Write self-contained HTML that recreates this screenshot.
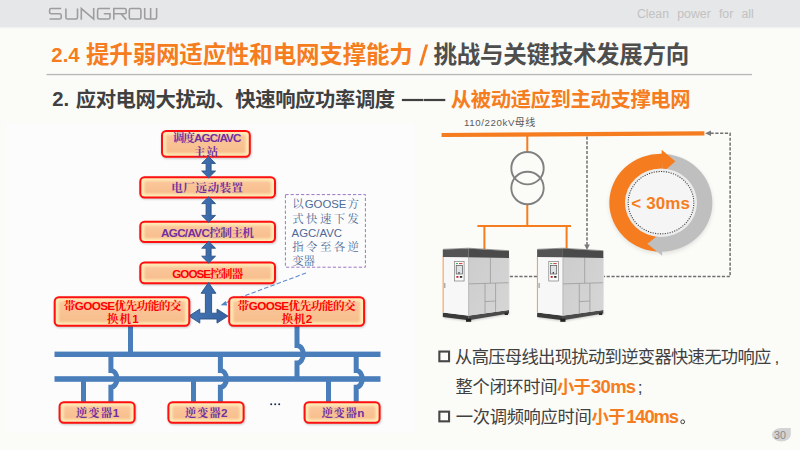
<!DOCTYPE html>
<html lang="zh-CN"><head><meta charset="utf-8"><title>2.4 提升弱网适应性和电网支撑能力</title>
<style>
html,body{margin:0;padding:0}
body{width:800px;height:450px;overflow:hidden;position:relative;background:#fbfbf8;font-family:"Liberation Sans",sans-serif}
#hdr{position:absolute;left:0;top:0;width:800px;height:27.4px;background:#e6e7e8}
#hsh{position:absolute;left:0;top:27.4px;width:800px;height:1.2px;background:linear-gradient(#eeeeee,#fbfbf8)}
#art{position:absolute;left:0;top:0}
.t{position:absolute;white-space:nowrap;color:transparent;line-height:1.2;margin:0}
#slogan{position:absolute;left:636.9px;top:6.5px;font-size:12.3px;line-height:14px;color:#c2c2c2;letter-spacing:0;word-spacing:4.8px;white-space:nowrap}
#pg{position:absolute;left:770px;top:428.9px;width:20px;text-align:center;font-size:10.7px;line-height:12px;color:#8a8a8a}
#art text{font-family:"Liberation Sans","Noto Sans CJK SC",sans-serif}
#art text.bx{font-family:"Liberation Sans","Noto Serif CJK SC",serif;font-weight:bold;font-size:11.67px}
#art text.nt{font-family:"Liberation Sans","Noto Serif CJK SC",serif;font-size:11.4px;fill:#4d6a96}
</style></head><body>
<div id="hdr"></div><div id="hsh"></div>
<svg id="art" width="800" height="450" viewBox="0 0 800 450"><defs><linearGradient id="bx" x1="0" y1="0" x2="0" y2="1"><stop offset="0" stop-color="#fac79c"/><stop offset="1" stop-color="#f8be8c"/></linearGradient>
<linearGradient id="ar" x1="0" y1="0" x2="1" y2="0"><stop offset="0" stop-color="#4476b6"/><stop offset="1" stop-color="#35629f"/></linearGradient>
<linearGradient id="cs" x1="0" y1="0" x2="1" y2="1"><stop offset="0" stop-color="#cccccc"/><stop offset="1" stop-color="#d6d6d6"/></linearGradient>
<filter id="bl" x="-20%" y="-40%" width="140%" height="180%"><feGaussianBlur stdDeviation="1.1"/></filter>
<filter id="bl3" x="-10%" y="-30%" width="120%" height="160%"><feGaussianBlur stdDeviation="1.05"/></filter>
<filter id="bl2" x="-20%" y="-20%" width="140%" height="140%"><feGaussianBlur stdDeviation="2"/></filter></defs>
<text x="51.33" y="62.05" font-size="20.37" font-weight="bold" fill="#f57d20">2.4</text>
<text x="85.96" y="62.95" font-size="23.5" font-weight="bold" fill="#f57d20" textLength="326.9">提升弱网适应性和电网支撑能力</text>
<polygon points="419.1,65.4 422,65.4 428.2,44.5 425.3,44.5" fill="#f57d20"/>
<text x="433.51" y="62.95" font-size="23.5" font-weight="bold" fill="#4e4e4e" textLength="255.8">挑战与关键技术发展方向</text>
<rect x="46.5" y="73.9" width="705.5" height="1.3" fill="#b7b7b7"/>
<text x="52.23" y="105.6" font-size="20.25" font-weight="bold" fill="#404040">2.</text>
<text x="75.7" y="106.65" font-size="20.35" font-weight="bold" fill="#404040" textLength="319.5">应对电网大扰动、快速响应功率调度</text>
<rect x="401.9" y="98.9" width="21.5" height="2.2" fill="#404040"/><rect x="423.9" y="98.9" width="21.4" height="2.2" fill="#404040"/>
<text x="450.76" y="106.65" font-size="20.35" font-weight="bold" fill="#f57d20" textLength="239.9">从被动适应到主动支撑电网</text>
<rect x="5" y="123" width="409.5" height="310" fill="#fcfcfc"/><rect x="54.5" y="351.6" width="326" height="5.4" fill="#4a7ebb"/><rect x="54.5" y="376.2" width="326" height="5.6" fill="#4a7ebb"/><rect x="128" y="326" width="5" height="27" fill="#4a7ebb"/><path d="M297 326 V345.5 A6.3 8.75 0 0 1 297 363 V378" fill="none" stroke="#4a7ebb" stroke-width="5"/><rect x="81" y="380" width="5" height="22" fill="#4a7ebb"/><rect x="191" y="380" width="5" height="22" fill="#4a7ebb"/><rect x="326" y="380" width="5" height="22" fill="#4a7ebb"/><path d="M110.9 355 V370.4 A6.05 8.4 0 0 1 110.9 387.2 V402" fill="none" stroke="#4a7ebb" stroke-width="5"/><path d="M220.4 355 V370.4 A6.05 8.4 0 0 1 220.4 387.2 V402" fill="none" stroke="#4a7ebb" stroke-width="5"/><path d="M356.2 355 V370.4 A6.05 8.4 0 0 1 356.2 387.2 V402" fill="none" stroke="#4a7ebb" stroke-width="5"/><rect x="161.6" y="130.9" width="89.8" height="27.8" rx="4.8" fill="#000" opacity=".22" filter="url(#bl)"/><rect x="162" y="131" width="87.8" height="25.8" rx="4.2" fill="#fdebb6" stroke="#ff0f0f" stroke-width="2"/><rect x="166" y="134.8" width="79.8" height="18.4" rx="1.5" fill="url(#bx)" filter="url(#bl3)"/><rect x="139.9" y="177.1" width="136.7" height="22.2" rx="4.8" fill="#000" opacity=".22" filter="url(#bl)"/><rect x="140.3" y="177.2" width="134.7" height="20.2" rx="4.2" fill="#fdebb6" stroke="#ff0f0f" stroke-width="2"/><rect x="144.3" y="181" width="126.7" height="12.8" rx="1.5" fill="url(#bx)" filter="url(#bl3)"/><rect x="139.9" y="221.7" width="136.7" height="22.2" rx="4.8" fill="#000" opacity=".22" filter="url(#bl)"/><rect x="140.3" y="221.8" width="134.7" height="20.2" rx="4.2" fill="#fdebb6" stroke="#ff0f0f" stroke-width="2"/><rect x="144.3" y="225.6" width="126.7" height="12.8" rx="1.5" fill="url(#bx)" filter="url(#bl3)"/><rect x="139.9" y="262.5" width="136.7" height="22.6" rx="4.8" fill="#000" opacity=".22" filter="url(#bl)"/><rect x="140.3" y="262.6" width="134.7" height="20.6" rx="4.2" fill="#fdebb6" stroke="#ff0f0f" stroke-width="2"/><rect x="144.3" y="266.4" width="126.7" height="13.2" rx="1.5" fill="url(#bx)" filter="url(#bl3)"/><polygon points="208.5,282.6 215.9,293.3 211.6,293.3 211.6,313.2 217,313.2 217,309.1 227.9,316.1 217,323.1 217,319 199.8,319 199.8,323.1 189,316.1 199.8,309.1 199.8,313.2 205.4,313.2 205.4,293.3 201.1,293.3" fill="url(#ar)" stroke="#2b5286" stroke-width=".9" stroke-linejoin="round"/><path d="M306 273 L223.5 303.7" stroke="#5b8bd0" stroke-width="1.1" stroke-dasharray="4.5 2.2" fill="none"/><polygon points="220.6,305.3 225.6,300.9 227.3,305.4" fill="#4f86cc"/><polygon points="208.6,156.6 215.5,163.4 211.1,163.4 211.1,171 215.5,171 208.6,177.8 201.7,171 206.1,171 206.1,163.4 201.7,163.4" fill="url(#ar)" stroke="#2b5286" stroke-width=".9" stroke-linejoin="round"/><polygon points="208.6,196.8 215.5,203.6 211.1,203.6 211.1,215.4 215.5,215.4 208.6,222.2 201.7,215.4 206.1,215.4 206.1,203.6 201.7,203.6" fill="url(#ar)" stroke="#2b5286" stroke-width=".9" stroke-linejoin="round"/><polygon points="208.6,241.4 215.5,248.2 211.1,248.2 211.1,256.2 215.5,256.2 208.6,263 201.7,256.2 206.1,256.2 206.1,248.2 201.7,248.2" fill="url(#ar)" stroke="#2b5286" stroke-width=".9" stroke-linejoin="round"/><rect x="54.3" y="297.1" width="136.6" height="30.6" rx="4.8" fill="#000" opacity=".22" filter="url(#bl)"/><rect x="54.7" y="297.2" width="134.6" height="28.6" rx="4.2" fill="#fdebb6" stroke="#ff0f0f" stroke-width="2"/><rect x="58.7" y="301" width="126.6" height="21.2" rx="1.5" fill="url(#bx)" filter="url(#bl3)"/><rect x="228.8" y="297.1" width="136.9" height="30.6" rx="4.8" fill="#000" opacity=".22" filter="url(#bl)"/><rect x="229.2" y="297.2" width="134.9" height="28.6" rx="4.2" fill="#fdebb6" stroke="#ff0f0f" stroke-width="2"/><rect x="233.2" y="301" width="126.9" height="21.2" rx="1.5" fill="url(#bx)" filter="url(#bl3)"/><rect x="59.2" y="402.1" width="77" height="22.6" rx="4.8" fill="#000" opacity=".22" filter="url(#bl)"/><rect x="59.6" y="402.2" width="75" height="20.6" rx="4.2" fill="#fdebb6" stroke="#ff0f0f" stroke-width="2"/><rect x="63.6" y="406" width="67" height="13.2" rx="1.5" fill="url(#bx)" filter="url(#bl3)"/><rect x="168" y="402.1" width="77.2" height="22.6" rx="4.8" fill="#000" opacity=".22" filter="url(#bl)"/><rect x="168.4" y="402.2" width="75.2" height="20.6" rx="4.2" fill="#fdebb6" stroke="#ff0f0f" stroke-width="2"/><rect x="172.4" y="406" width="67.2" height="13.2" rx="1.5" fill="url(#bx)" filter="url(#bl3)"/><rect x="304.2" y="402.1" width="77" height="22.6" rx="4.8" fill="#000" opacity=".22" filter="url(#bl)"/><rect x="304.6" y="402.2" width="75" height="20.6" rx="4.2" fill="#fdebb6" stroke="#ff0f0f" stroke-width="2"/><rect x="308.6" y="406" width="67" height="13.2" rx="1.5" fill="url(#bx)" filter="url(#bl3)"/>
<text class="bx" x="172.63" y="141.8" fill="#7030a0" textLength="68.7">调度AGC/AVC</text>
<text class="bx" x="193.74" y="155.5" fill="#7030a0" textLength="24.5">主站</text>
<text class="bx" x="171.15" y="192.1" fill="#7030a0" textLength="72.1">电厂远动装置</text>
<text class="bx" x="160.98" y="236.7" fill="#7030a0" textLength="92.85">AGC/AVC控制主机</text>
<text class="bx" x="172.19" y="277.7" fill="#ff0000" textLength="71">GOOSE控制器</text>
<text class="bx" x="63.73" y="310.1" fill="#ff0000" textLength="117.7">带GOOSE优先功能的交</text>
<text class="bx" x="106.92" y="323.3" fill="#ff0000" textLength="31.8">换机1</text>
<text class="bx" x="237.53" y="310.1" fill="#ff0000" textLength="118.2">带GOOSE优先功能的交</text>
<text class="bx" x="281.72" y="323.3" fill="#ff0000" textLength="30.4">换机2</text>
<text class="bx" x="75.71" y="417.3" fill="#7030a0" textLength="43.5">逆变器1</text>
<text class="bx" x="184.71" y="417.3" fill="#7030a0" textLength="42.8">逆变器2</text>
<text class="bx" x="321.46" y="417.3" fill="#7030a0" textLength="42.8">逆变器n</text>
<g fill="#1f2a5c"><circle cx="271.2" cy="404.3" r="1"/><circle cx="275.2" cy="404.3" r="1"/><circle cx="279.2" cy="404.3" r="1"/></g><rect x="285.4" y="194.6" width="80" height="72.6" fill="none" stroke="#9a78c6" stroke-width="1" stroke-dasharray="3.2 2"/>
<text class="nt" x="292.2" y="208.4">以</text>
<text class="nt" x="304.7" y="208.4">GOOSE</text>
<text class="nt" x="347.6" y="208.4">方</text>
<text class="nt" x="292.2" y="223" textLength="66.8">式快速下发</text>
<text class="nt" x="291.6" y="237">AGC/AVC</text>
<text class="nt" x="292.2" y="251.2" textLength="66.8">指令至各逆</text>
<text class="nt" x="292.2" y="264.6">变器</text>
<path d="M710.5 133.25 H730.1 V276.6 H604 M537 276.6 H509.4 M587 136.5 V246" fill="none" stroke="#707070" stroke-width="1.5" stroke-dasharray="3.2 1.6"/><polygon points="705,133.2 711,130.5 711,135.9" fill="#7a7a7a"/><polygon points="587,250 584.2,244.6 589.8,244.6" fill="#7a7a7a"/><polygon points="441.6,133 704.4,131.2 704.4,135.5 441.6,137.1" fill="#f57d20"/><path d="M527.3 135 V151.5 M527.3 205 V226.1 M477.4 226.1 H571 M484.4 226 V249 M566.6 226 V249" stroke="#f57d20" stroke-width="2" fill="none"/><circle cx="527.5" cy="168.2" r="16.2" fill="none" stroke="#808080" stroke-width="1.9"/><circle cx="527.5" cy="188" r="16.2" fill="none" stroke="#808080" stroke-width="1.9"/>
<text x="463.89" y="126.3" font-size="9.7" fill="#5a5a5a" textLength="50.6">110/220kV</text>
<text x="514.83" y="126.3" font-size="10" fill="#5a5a5a" textLength="20.3">母线</text>
<g transform="translate(0 0)"><polygon points="444,318 468.6,321.6 509.5,314.2 509.5,312 468.6,318 444,315" fill="#000" opacity=".18" filter="url(#bl)"/><polygon points="442.8,312.4 468.6,315.6 468.6,320.3 442.8,316.9" fill="#3a3a3a"/><polygon points="468.6,315.6 509,310 509,313.4 468.6,320.3" fill="#4a4a4a"/><rect x="466" y="318.6" width="5.2" height="3.2" fill="#222"/><rect x="504.6" y="312.6" width="3.4" height="2.4" fill="#2a2a2a"/><polygon points="442.8,249.6 468.6,248.5 468.6,315.7 442.8,312.5" fill="#f7f7f7"/><polygon points="442.6,256.8 443.7,256.8 443.7,312.7 442.6,312.5" fill="#f7a05c"/><polygon points="468.6,248.5 509,251 509,310.1 468.6,315.7" fill="url(#cs)"/><path d="M468.6 283.9 L509 282.7 M490.4 257.6 V283.2 M485 283.6 V313.2 M495.6 283.2 V311.8 M485 301.6 L495.6 301" stroke="#9a9a9a" stroke-width=".8" fill="none"/><path d="M468.6 257 V315.7" stroke="#a8a8a8" stroke-width=".7"/><path d="M509 257 V310" stroke="#dcdcdc" stroke-width=".8"/><polygon points="442.8,249.6 468.6,248.5 468.6,257.2 442.8,257" fill="#545454"/><polygon points="468.6,248.5 509,251 509,257.9 468.6,257.2" fill="#4a4a4a"/><path d="M443 249.3 L468.6 248.2 L509 250.7" stroke="#7a7a7a" stroke-width=".7" fill="none"/><rect x="454.5" y="261.6" width="9.6" height="19.4" fill="#fbfbfb" stroke="#7d7d7d" stroke-width=".7"/><rect x="456.2" y="265.4" width="6.2" height="8.6" fill="#dfe2e6" stroke="#555" stroke-width=".7"/><rect x="456" y="263" width="2" height="1.1" fill="#4caf50"/><rect x="459" y="263" width="3.4" height="1.1" fill="#d64545"/><rect x="456.4" y="276" width="2" height="1.8" fill="#b22"/><rect x="459.8" y="276" width="2.4" height="1.8" fill="#333"/><rect x="458.4" y="272" width="1.2" height="1.6" fill="#333"/><rect x="444.3" y="283" width="1" height="5" fill="#8a8a8a"/></g><g transform="translate(94.3 0)"><polygon points="444,318 468.6,321.6 509.5,314.2 509.5,312 468.6,318 444,315" fill="#000" opacity=".18" filter="url(#bl)"/><polygon points="442.8,312.4 468.6,315.6 468.6,320.3 442.8,316.9" fill="#3a3a3a"/><polygon points="468.6,315.6 509,310 509,313.4 468.6,320.3" fill="#4a4a4a"/><rect x="466" y="318.6" width="5.2" height="3.2" fill="#222"/><rect x="504.6" y="312.6" width="3.4" height="2.4" fill="#2a2a2a"/><polygon points="442.8,249.6 468.6,248.5 468.6,315.7 442.8,312.5" fill="#f7f7f7"/><polygon points="442.6,256.8 443.7,256.8 443.7,312.7 442.6,312.5" fill="#f7a05c"/><polygon points="468.6,248.5 509,251 509,310.1 468.6,315.7" fill="url(#cs)"/><path d="M468.6 283.9 L509 282.7 M490.4 257.6 V283.2 M485 283.6 V313.2 M495.6 283.2 V311.8 M485 301.6 L495.6 301" stroke="#9a9a9a" stroke-width=".8" fill="none"/><path d="M468.6 257 V315.7" stroke="#a8a8a8" stroke-width=".7"/><path d="M509 257 V310" stroke="#dcdcdc" stroke-width=".8"/><polygon points="442.8,249.6 468.6,248.5 468.6,257.2 442.8,257" fill="#545454"/><polygon points="468.6,248.5 509,251 509,257.9 468.6,257.2" fill="#4a4a4a"/><path d="M443 249.3 L468.6 248.2 L509 250.7" stroke="#7a7a7a" stroke-width=".7" fill="none"/><rect x="454.5" y="261.6" width="9.6" height="19.4" fill="#fbfbfb" stroke="#7d7d7d" stroke-width=".7"/><rect x="456.2" y="265.4" width="6.2" height="8.6" fill="#dfe2e6" stroke="#555" stroke-width=".7"/><rect x="456" y="263" width="2" height="1.1" fill="#4caf50"/><rect x="459" y="263" width="3.4" height="1.1" fill="#d64545"/><rect x="456.4" y="276" width="2" height="1.8" fill="#b22"/><rect x="459.8" y="276" width="2.4" height="1.8" fill="#333"/><rect x="458.4" y="272" width="1.2" height="1.6" fill="#333"/><rect x="444.3" y="283" width="1" height="5" fill="#8a8a8a"/></g><g transform="translate(661 202.7) scale(1 0.95)"><circle r="51.6" fill="#000" opacity=".10" filter="url(#bl2)" cy="2"/><path d="M0 -51.6 A51.6 51.6 0 1 1 -0.45 51.6 L-0.31 35.6 A35.6 35.6 0 1 0 0 -35.6 Z" fill="#bfbfbf"/><path d="M0 51.6 A51.6 51.6 0 1 1 1.35 -51.58 L0.93 -35.59 A35.6 35.6 0 1 0 0 35.6 Z" fill="#f57d20"/><polygon points="0.6,-55.8 1.4,-31.4 14.4,-43.6" fill="#f57d20"/><polygon points="0.2,31.6 1.2,55.8 -13.6,43.2" fill="#bfbfbf"/><circle r="36" fill="#ececec"/><circle r="32.8" fill="#f5f5f5" stroke="#3c3c3c" stroke-width="1.1" stroke-dasharray="1.1 1.35"/></g>
<text x="631.27" y="209.2" font-size="17" font-weight="bold" fill="#f57d20" textLength="58.7">&lt; 30ms</text>
<rect x="439.35" y="351.55" width="9.7" height="9.7" fill="none" stroke="#474747" stroke-width="2.1"/><rect x="439.35" y="411.65" width="9.7" height="9.7" fill="none" stroke="#474747" stroke-width="2.1"/>
<text x="455.04" y="363.05" font-size="17.3" fill="#404040" textLength="316.3">从高压母线出现扰动到逆变器快速无功响应</text>
<text x="774.49" y="363.05" font-size="17.3" fill="#404040">,</text>
<text x="455.53" y="393.05" font-size="17.3" fill="#404040" textLength="102">整个闭环时间</text>
<text x="557.12" y="393.05" font-size="17.3" font-weight="bold" fill="#f57d20" textLength="33.7">小于</text>
<text x="591.05" y="393" font-size="18.41" font-weight="bold" fill="#f57d20" textLength="45">30ms</text>
<text x="637.66" y="393.05" font-size="17.3" fill="#404040">;</text>
<text x="455.84" y="422.95" font-size="17.3" fill="#404040" textLength="135.9">一次调频响应时间</text>
<text x="591.62" y="422.95" font-size="17.3" font-weight="bold" fill="#f57d20" textLength="33.9">小于</text>
<text x="626.16" y="422.9" font-size="18.41" font-weight="bold" fill="#f57d20" textLength="52.9">140ms</text>
<circle cx="682.7" cy="421.8" r="1.9" fill="none" stroke="#404040" stroke-width="1"/><path d="M61.2 8.55 H51.2 Q49.6 8.55 49.6 10.15 V12.2 Q49.6 13.8 51.2 13.8 H59.6 Q61.2 13.8 61.2 15.4 V17.45 Q61.2 19.05 59.6 19.05 H49.6 M65.9 8.55 V17.45 Q65.9 19.05 67.5 19.05 H75.9 Q77.5 19.05 77.5 17.45 V8.55 M81.3 19.65 V8.55 L93.7 19.05 V7.95 M110 8.55 H99.2 Q97.6 8.55 97.6 10.15 V17.45 Q97.6 19.05 99.2 19.05 H108.4 Q110 19.05 110 17.45 V13.8 H103.8 M113.8 19.65 V8.55 H124.6 Q126.2 8.55 126.2 10.15 V12.2 Q126.2 13.8 124.6 13.8 H113.8 M121 13.8 L126.2 19.65 M130.9 8.55 H139.3 Q140.9 8.55 140.9 10.15 V17.45 Q140.9 19.05 139.3 19.05 H130.9 Q129.3 19.05 129.3 17.45 V10.15 Q129.3 8.55 130.9 8.55 Z M144.7 7.95 V17.45 Q144.7 19.05 146.3 19.05 H155 Q156.6 19.05 156.6 17.45 V7.95 M150.65 7.95 V19.05" fill="none" stroke="#9d9d9d" stroke-width="1.6"/><path d="M781.3 428.1 H790.8 V434.8 A9.5 6.7 0 0 1 781.3 441.5 A9.4 6.7 0 0 1 781.3 428.1Z" fill="#d3d3d3"/></svg>
<div id="slogan">Clean power for all</div>
<div id="pg">30</div>
<div class="t" style="left:51px;top:40px;font-size:23.3px;font-weight:bold;">2.4 提升弱网适应性和电网支撑能力 / 挑战与关键技术发展方向</div><div class="t" style="left:52px;top:85px;font-size:20px;font-weight:bold;">2. 应对电网大扰动、快速响应功率调度 —— 从被动适应到主动支撑电网</div><div class="t" style="left:163px;top:131px;font-size:11.67px;font-weight:bold;width:86px;white-space:normal;line-height:14px;">调度AGC/AVC<br>主站</div><div class="t" style="left:172px;top:181px;font-size:11.67px;font-weight:bold;">电厂远动装置</div><div class="t" style="left:161px;top:225px;font-size:11.67px;font-weight:bold;">AGC/AVC控制主机</div><div class="t" style="left:170px;top:266px;font-size:11.67px;font-weight:bold;">GOOSE控制器</div><div class="t" style="left:62px;top:298px;font-size:11.67px;font-weight:bold;width:122px;white-space:normal;line-height:14px;">带GOOSE优先功能的交换机1</div><div class="t" style="left:236px;top:298px;font-size:11.67px;font-weight:bold;width:122px;white-space:normal;line-height:14px;">带GOOSE优先功能的交换机2</div><div class="t" style="left:76px;top:406px;font-size:11.67px;font-weight:bold;">逆变器1</div><div class="t" style="left:185px;top:406px;font-size:11.67px;font-weight:bold;">逆变器2</div><div class="t" style="left:321px;top:406px;font-size:11.67px;font-weight:bold;">逆变器n</div><div class="t" style="left:270px;top:396px;font-size:11.67px;font-weight:bold;">…</div><div class="t" style="left:292px;top:197px;font-size:11.4px;font-family:'Liberation Serif',serif;width:68px;white-space:normal;line-height:14px;">以GOOSE方式快速下发AGC/AVC指令至各逆变器</div><div class="t" style="left:464px;top:116px;font-size:10px;">110/220kV母线</div><div class="t" style="left:631px;top:192px;font-size:16.7px;font-weight:bold;">&lt; 30ms</div><div class="t" style="left:456px;top:345px;font-size:16.7px;">从高压母线出现扰动到逆变器快速无功响应,</div><div class="t" style="left:456px;top:375px;font-size:16.7px;">整个闭环时间<b>小于30ms</b>;</div><div class="t" style="left:456px;top:406px;font-size:16.7px;">一次调频响应时间<b>小于140ms</b>。</div><div class="t" style="left:49px;top:6px;font-size:14px;">SUNGROW</div>
</body></html>
